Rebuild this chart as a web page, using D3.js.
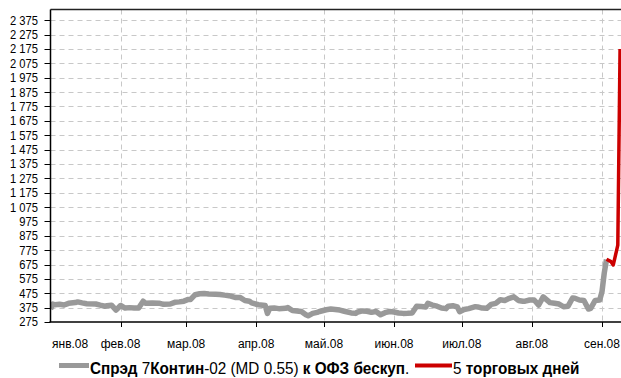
<!DOCTYPE html>
<html><head><meta charset="utf-8">
<script src="https://cdn.jsdelivr.net/npm/d3@7"></script>
<style>
html,body{margin:0;padding:0;background:#fff;}
svg{display:block;}
text{font-family:"Liberation Sans",Arial,sans-serif;fill:#000;}
</style></head>
<body>
<svg id="chart" width="621" height="378"></svg>
<script>
// ---- data ----
const monthLabels = ["янв.08","фев.08","мар.08","апр.08","май.08","июн.08","июл.08","авг.08","сен.08"];
const yTicks = [275,375,475,575,675,775,875,975,1075,1175,1275,1375,1475,1575,1675,1775,1875,1975,2075,2175,2275,2375];
const spreadDates = ["2008-01-01","2008-01-02","2008-01-03","2008-01-05","2008-01-07","2008-01-09","2008-01-12","2008-01-13","2008-01-15","2008-01-17","2008-01-21","2008-01-23","2008-01-25","2008-01-26","2008-01-28","2008-01-30","2008-02-01","2008-02-03","2008-02-05","2008-02-07","2008-02-09","2008-02-11","2008-02-12","2008-02-15","2008-02-18","2008-02-20","2008-02-23","2008-02-25","2008-02-27","2008-02-29","2008-03-02","2008-03-03","2008-03-05","2008-03-07","2008-03-09","2008-03-11","2008-03-14","2008-03-16","2008-03-18","2008-03-20","2008-03-23","2008-03-25","2008-03-27","2008-03-29","2008-03-30","2008-04-02","2008-04-04","2008-04-05","2008-04-06","2008-04-07","2008-04-09","2008-04-11","2008-04-14","2008-04-15","2008-04-17","2008-04-19","2008-04-21","2008-04-23","2008-04-24","2008-04-26","2008-04-28","2008-04-29","2008-05-02","2008-05-04","2008-05-06","2008-05-08","2008-05-10","2008-05-13","2008-05-15","2008-05-16","2008-05-18","2008-05-20","2008-05-22","2008-05-24","2008-05-26","2008-05-28","2008-05-30","2008-06-01","2008-06-03","2008-06-05","2008-06-07","2008-06-09","2008-06-11","2008-06-13","2008-06-15","2008-06-16","2008-06-18","2008-06-20","2008-06-22","2008-06-24","2008-06-25","2008-06-27","2008-06-29","2008-06-30","2008-07-02","2008-07-04","2008-07-07","2008-07-08","2008-07-10","2008-07-12","2008-07-14","2008-07-16","2008-07-18","2008-07-20","2008-07-22","2008-07-24","2008-07-26","2008-07-28","2008-07-29","2008-07-31","2008-08-02","2008-08-04","2008-08-06","2008-08-09","2008-08-11","2008-08-13","2008-08-15","2008-08-17","2008-08-19","2008-08-20","2008-08-22","2008-08-24","2008-08-26","2008-08-27","2008-08-29","2008-08-31","2008-09-01","2008-09-02","2008-09-03"];
const spreadValues = [365,400,395,398,393,405,410,415,408,402,400,392,385,388,392,358,390,372,375,372,373,420,405,408,406,398,400,412,415,420,432,432,465,472,474,470,468,467,462,458,445,445,425,420,408,395,392,390,335,370,372,368,370,375,355,352,348,325,318,335,342,348,360,365,362,358,350,338,335,345,352,350,342,348,325,340,348,345,338,335,336,338,385,383,380,405,393,385,372,368,385,388,380,347,362,368,382,380,372,370,398,405,430,425,440,450,425,420,420,428,428,393,450,410,405,400,381,385,442,440,428,425,365,370,425,428,485,615,710];
const lastDates = ["2008-09-03","2008-09-05","2008-09-06","2008-09-08","2008-09-09"];
const lastValues = [712,695,672,810,2175];
const legendItems = [
  {color:"#999999", parts:[["Спрэд ",true],["7",false],["Контин",true],["-02 (MD 0.55) ",false],["к ОФЗ бескуп",true],[".",false]]},
  {color:"#cc0000", parts:[["5",false],[" торговых дней",true]]}
];

// ---- chart ----
const parse = d3.timeParse("%Y-%m-%d");
const svg = d3.select("#chart");
const pL = 50.5, pR = 621, pT = 9.5, pB = 322;
const x = d3.scaleTime().domain([new Date(2008,0,1), new Date(2008,8,9,10)]).range([pL, pR]);
const y = d3.scaleLinear().domain([275, 2450]).range([pB, pT]);
const loc = d3.formatLocale({decimal:",", thousands:"\u00a0", grouping:[3], currency:["",""]});
const fmt = loc.format(",");

const months = d3.timeMonth.range(new Date(2008,0,1), new Date(2008,8,2));

// grid
const grid = svg.append("g");
grid.selectAll("line.h").data(yTicks.slice(1)).join("line")
  .attr("x1", pL).attr("x2", pR)
  .attr("y1", d => Math.round(y(d))+0.5).attr("y2", d => Math.round(y(d))+0.5)
  .attr("stroke", "#c8c8c8").attr("stroke-width", 1).attr("stroke-dasharray", "5,4");
grid.selectAll("line.v").data(months.slice(1)).join("line")
  .attr("x1", d => Math.round(x(d))+0.5).attr("x2", d => Math.round(x(d))+0.5)
  .attr("y1", pT).attr("y2", pB)
  .attr("stroke", "#c8c8c8").attr("stroke-width", 1).attr("stroke-dasharray", "5,4");

// series
const line = d3.line().x(d => x(d[0])).y(d => y(d[1]));
const grayData = spreadDates.map((d,i) => [parse(d), spreadValues[i]]);
const redData = lastDates.map((d,i) => [parse(d), lastValues[i]]);
svg.append("defs").append("clipPath").attr("id","clip").append("rect")
  .attr("x", pL).attr("y", pT).attr("width", pR-pL).attr("height", pB-pT);
svg.append("path").datum(grayData).attr("clip-path","url(#clip)")
  .attr("d", line).attr("fill","none").attr("stroke","#999999")
  .attr("stroke-width", 5.5).attr("stroke-linejoin","round");
svg.append("path").datum(redData).attr("clip-path","url(#clip)")
  .attr("d", line).attr("fill","none").attr("stroke","#cc0000")
  .attr("stroke-width", 3.5).attr("stroke-linejoin","round");

// frame
svg.append("line").attr("x1", pL).attr("x2", pR).attr("y1", pT).attr("y2", pT)
  .attr("stroke","#222").attr("stroke-width",1.5);

// y axis
const yAxis = svg.append("g");
yAxis.append("line").attr("x1", pL).attr("x2", pL).attr("y1", pT).attr("y2", pB)
  .attr("stroke","#000").attr("stroke-width",1.5);
yAxis.selectAll("line.t").data(yTicks).join("line")
  .attr("x1", pL-6).attr("x2", pL).attr("y1", d => Math.round(y(d))+0.5).attr("y2", d => Math.round(y(d))+0.5)
  .attr("stroke","#000").attr("stroke-width",1);
yAxis.selectAll("text").data(yTicks).join("text")
  .attr("transform", d => `translate(38,${y(d)}) scale(1,1.1)`)
  .attr("dy","0.36em")
  .attr("text-anchor","end").attr("font-size", 11.2).text(d => fmt(d));

// x axis
const xAxis = svg.append("g");
xAxis.append("line").attr("x1", pL-1).attr("x2", pR).attr("y1", pB).attr("y2", pB)
  .attr("stroke","#000").attr("stroke-width",1.5);
xAxis.selectAll("line.t").data(months.slice(1)).join("line")
  .attr("x1", d => Math.round(x(d))+0.5).attr("x2", d => Math.round(x(d))+0.5)
  .attr("y1", pB).attr("y2", pB+5).attr("stroke","#000").attr("stroke-width",1);
xAxis.selectAll("text").data(months).join("text")
  .attr("x", (d,i) => i === 0 ? pL + 1.5 : x(d))
  .attr("y", 348)
  .attr("text-anchor", (d,i) => i === 0 ? "start" : "middle")
  .attr("font-size", 12).text((d,i) => monthLabels[i]);

// legend
const lg = svg.append("g");
const legendPos = [{x1:59, x2:89, tx:90}, {x1:415, x2:452, tx:453}];
legendItems.forEach((it, i) => {
  const p = legendPos[i];
  lg.append("line").attr("x1", p.x1).attr("x2", p.x2).attr("y1", 365.5).attr("y2", 365.5)
    .attr("stroke", it.color).attr("stroke-width", i === 0 ? 5 : 4);
  const t = lg.append("text").attr("transform", `translate(${p.tx},373.5) scale(1,1.12)`)
    .attr("font-size", 15.3);
  it.parts.forEach(([s,b]) => t.append("tspan").attr("font-weight", b ? "bold" : "normal").text(s));
});
</script>
</body></html>
